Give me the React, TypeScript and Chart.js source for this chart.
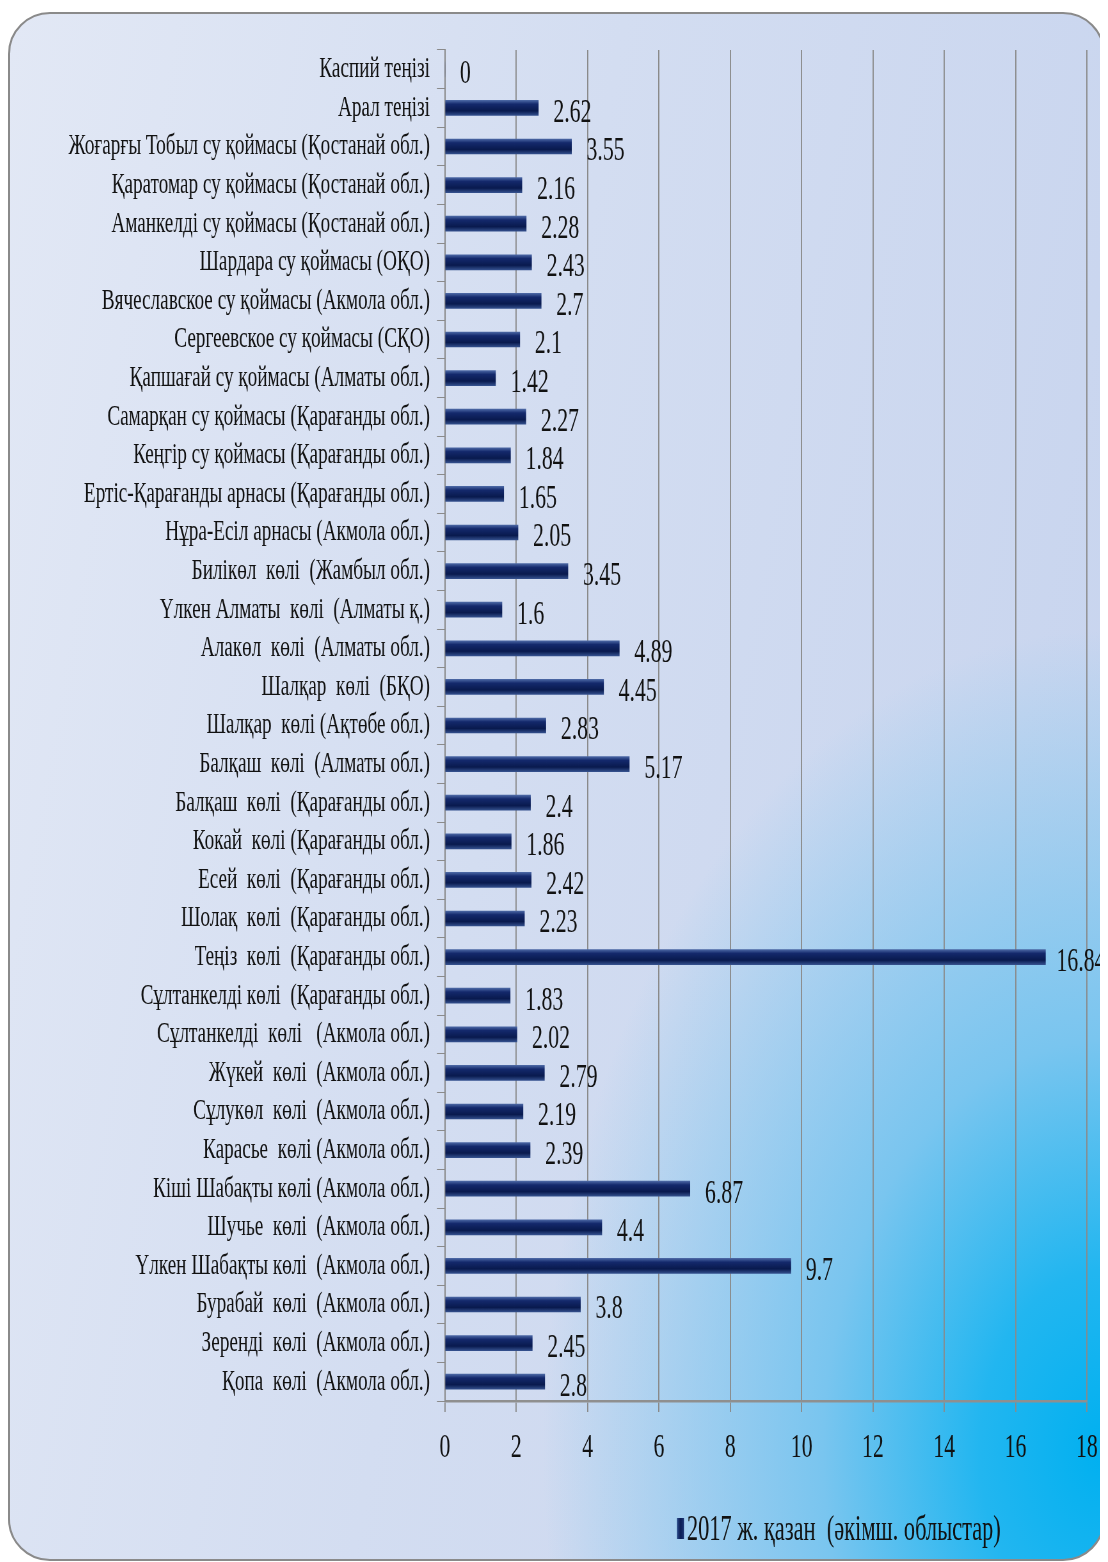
import React, { useEffect, useRef } from "react";
import { Chart, registerables } from "chart.js";

Chart.register(...registerables);

const categories: string[] = [
  "Каспий теңізі",
  "Арал теңізі",
  "Жоғарғы Тобыл су қоймасы (Қостанай обл.)",
  "Қаратомар су қоймасы (Қостанай обл.)",
  "Аманкелді су қоймасы (Қостанай обл.)",
  "Шардара су қоймасы (ОҚО)",
  "Вячеславское су қоймасы (Акмола обл.)",
  "Сергеевское су қоймасы (СҚО)",
  "Қапшағай су қоймасы (Алматы обл.)",
  "Самарқан су қоймасы (Қарағанды обл.)",
  "Кеңгір су қоймасы (Қарағанды обл.)",
  "Ертіс-Қарағанды арнасы (Қарағанды обл.)",
  "Нұра-Есіл арнасы (Акмола обл.)",
  "Билікөл  көлі  (Жамбыл обл.)",
  "Үлкен Алматы  көлі  (Алматы қ.)",
  "Алакөл  көлі  (Алматы обл.)",
  "Шалқар  көлі  (БҚО)",
  "Шалқар  көлі (Ақтөбе обл.)",
  "Балқаш  көлі  (Алматы обл.)",
  "Балқаш  көлі  (Қарағанды обл.)",
  "Кокай  көлі (Қарағанды обл.)",
  "Есей  көлі  (Қарағанды обл.)",
  "Шолақ  көлі  (Қарағанды обл.)",
  "Теңіз  көлі  (Қарағанды обл.)",
  "Сұлтанкелді көлі  (Қарағанды обл.)",
  "Сұлтанкелді  көлі   (Акмола обл.)",
  "Жүкей  көлі  (Акмола обл.)",
  "Сұлукөл  көлі  (Акмола обл.)",
  "Карасье  көлі (Акмола обл.)",
  "Кіші Шабақты көлі (Акмола обл.)",
  "Шучье  көлі  (Акмола обл.)",
  "Үлкен Шабақты көлі  (Акмола обл.)",
  "Бурабай  көлі  (Акмола обл.)",
  "Зеренді  көлі  (Акмола обл.)",
  "Қопа  көлі  (Акмола обл.)",
];

const values: number[] = [
  0, 2.62, 3.55, 2.16, 2.28, 2.43, 2.7, 2.1, 1.42, 2.27, 1.84, 1.65, 2.05,
  3.45, 1.6, 4.89, 4.45, 2.83, 5.17, 2.4, 1.86, 2.42, 2.23, 16.84, 1.83,
  2.02, 2.79, 2.19, 2.39, 6.87, 4.4, 9.7, 3.8, 2.45, 2.8,
];

const seriesLabel = "2017 ж. қазан  (әкімш. облыстар)";
const xMin = 0;
const xMax = 18;
const xStep = 2;

// horizontal condensing factor (the reference uses a strongly condensed serif)
const S = 0.64;
const BOX_W = 1097;
const BOX_H = 1549;
const CANVAS_W = 1100; // slightly wider than the frame so the longest value label fits
const CW = Math.round(CANVAS_W / S);
const FONT = '"Liberation Serif", "DejaVu Serif", "Noto Serif", serif';

const valueLabelPlugin = {
  id: "valueLabels",
  afterDatasetsDraw(chart: any) {
    const ctx = chart.ctx;
    const meta = chart.getDatasetMeta(0);
    const data = chart.data.datasets[0].data as number[];
    ctx.save();
    ctx.font = `34px ${FONT}`;
    ctx.fillStyle = "#111111";
    ctx.textBaseline = "middle";
    ctx.textAlign = "left";
    meta.data.forEach((bar: any, i: number) => {
      const gap = data[i] > 15 ? 11 : 15;
      ctx.fillText(String(data[i]), bar.x + gap / S, bar.y + 5);
    });
    ctx.restore();
  },
};

const customLegendPlugin = {
  id: "customLegend",
  afterDraw(chart: any) {
    const ctx = chart.ctx;
    const ds = chart.data.datasets[0];
    const x = chart.chartArea.left + 232 / S;
    const y = chart.chartArea.bottom + 128;
    ctx.save();
    const g = ctx.createLinearGradient(x, 0, x + 7 / S, 0);
    g.addColorStop(0, "#2a4a8a");
    g.addColorStop(0.5, "#0b1c55");
    g.addColorStop(1, "#1a3270");
    ctx.fillStyle = g;
    ctx.fillRect(x, y - 11, 7 / S, 21);
    ctx.font = `35px ${FONT}`;
    ctx.fillStyle = "#111111";
    ctx.textBaseline = "middle";
    ctx.textAlign = "left";
    ctx.fillText(ds.label, x + 10 / S, y + 2);
    ctx.restore();
  },
};

export default function App() {
  const canvasRef = useRef<HTMLCanvasElement | null>(null);

  useEffect(() => {
    const canvas = canvasRef.current;
    if (!canvas) return;
    const chart = new Chart(canvas, {
      type: "bar",
      data: {
        labels: categories,
        datasets: [
          {
            label: seriesLabel,
            data: values,
            barThickness: 15,
            borderWidth: 0,
            backgroundColor: (c: any) => {
              const ch = c.chart;
              if (!ch.chartArea || c.type !== "data" || !ch.scales.y) return "#0e2261";
              const y = ch.scales.y.getPixelForValue(c.dataIndex);
              const g = ch.ctx.createLinearGradient(0, y - 7.5, 0, y + 7.5);
              g.addColorStop(0, "#4a66a3");
              g.addColorStop(0.25, "#14296c");
              g.addColorStop(0.7, "#091a4e");
              g.addColorStop(1, "#334f8c");
              return g;
            },
          },
        ],
      },
      options: {
        indexAxis: "y",
        responsive: false,
        animation: false,
        devicePixelRatio: 1,
        events: [],
        layout: { padding: { left: 0, right: 21 / S, top: 38, bottom: 0 } },
        plugins: {
          legend: { display: false },
          tooltip: { enabled: false },
        },
        scales: {
          x: {
            type: "linear",
            min: xMin,
            max: xMax,
            ticks: {
              stepSize: xStep,
              color: "#111111",
              font: { family: FONT, size: 34 },
              padding: 16,
              maxRotation: 0,
            },
            grid: {
              color: "#8a8a8a",
              lineWidth: 1.2 / S,
              tickLength: 11,
              drawTicks: true,
            },
            border: { display: true, color: "#8f8f8f", width: 2.5 },
            afterFit: (scale: any) => {
              scale.height = 160;
            },
          },
          y: {
            type: "category",
            ticks: {
              color: "#111111",
              font: { family: FONT, size: 30 },
              padding: 7 / S,
              autoSkip: false,
            },
            grid: {
              drawOnChartArea: false,
              drawTicks: true,
              tickLength: 8 / S,
              color: "#8a8a8a",
              lineWidth: 1,
              offset: true,
            },
            border: { display: true, color: "#8a8a8a", width: 1.3 / S },
            afterFit: (scale: any) => {
              scale.width = 437 / S;
            },
          },
        },
      },
      plugins: [valueLabelPlugin, customLegendPlugin],
    } as any);
    return () => chart.destroy();
  }, []);

  return (
    <div style={{ paddingTop: 4 }}>
      <div style={{ position: "relative", width: BOX_W, height: BOX_H }}>
        <div
          style={{
            position: "absolute",
            left: 0,
            top: 0,
            right: 0,
            bottom: 0,
            boxSizing: "border-box",
            border: "2px solid #8a8a8a",
            borderRadius: 42,
            background:
              "radial-gradient(ellipse 560px 820px at 100% 93%, #00b0f0 0%, #22b6f0 22%, #79c5ef 50%, rgba(196,210,238,0) 100%), linear-gradient(100deg, #e2e8f5 0%, #d3ddf1 45%, #c6d3ee 100%)",
          }}
        />
        <canvas
          ref={canvasRef}
          width={CW}
          height={BOX_H}
          style={{ position: "absolute", left: 0, top: 0, width: CANVAS_W, height: BOX_H }}
        />
      </div>
    </div>
  );
}
